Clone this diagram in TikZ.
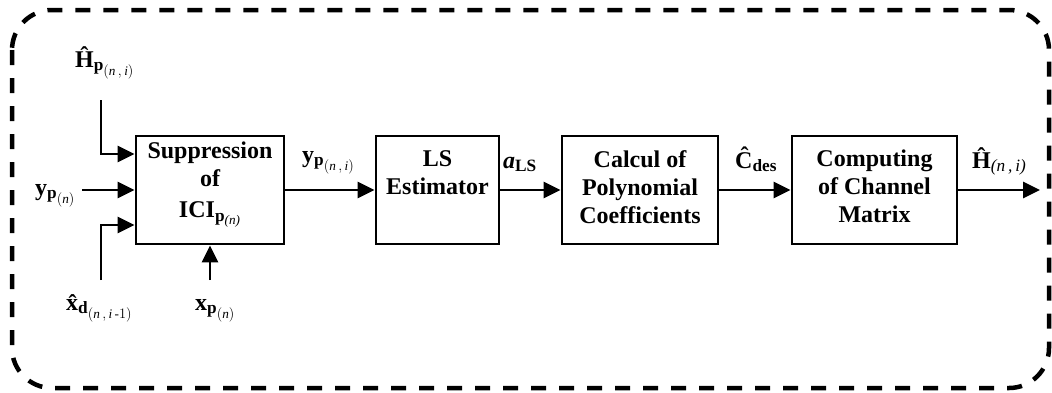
\documentclass[tikz,border=0pt]{standalone}
\usepackage{amsmath}
\usepackage{fontspec}
\setmainfont{Liberation Serif}
\usetikzlibrary{arrows.meta}
\renewcommand{\defaultscriptratio}{.72}
\renewcommand{\defaultscriptscriptratio}{.55}
\tikzset{
  blk/.style={draw, line width=2.8pt, minimum height=108pt, inner sep=0pt},
  blktext/.style={anchor=north, align=center, inner sep=0pt, font=\fontsize{24}{28}\selectfont\bfseries},
  sig/.style={line width=2.8pt, -{Triangle[length=17pt,width=16pt]}},
  lbl/.style={inner sep=0pt, font=\fontsize{24}{28}\selectfont},
  frame/.style={line width=4.5pt, dash pattern=on 15pt off 13pt, rounded corners=40pt}
}
\newcommand{\itn}[1]{\text{\normalfont\itshape #1}}
\newcommand{\bhat}[1]{\text{\normalfont\bfseries\^{#1}}}
\begin{document}
\begin{tikzpicture}[x=1pt,y=-1pt]
\useasboundingbox (0,0) rectangle (1052,392);
\draw[frame] (12,10) rectangle (1049,388);

\node[blk, minimum width=148pt] (sup) at (210,190) {};
\node[blk, minimum width=123pt] (ls)  at (437.5,190) {};
\node[blk, minimum width=156pt] (cal) at (640,190) {};
\node[blk, minimum width=165pt] (com) at (874.5,190) {};

\node[blktext] (supt) at ([yshift=-7pt]sup.north) {Suppression\\ of\\[3pt] ICI$_{\mathbf{p}_{\itn{(n)}}}$};
\node[blktext] (lst) at ([yshift=-15.5pt]ls.north) {LS\\ Estimator};
\node[blktext] (calt) at ([yshift=-15.5pt]cal.north) {Calcul of\\ Polynomial\\ Coefficients};
\node[blktext] (comt) at ([yshift=-15.5pt]com.north) {Computing\\ of Channel\\ Matrix};

% free ends of the input / output connectors
\coordinate (htop) at (101,100);
\coordinate (xbot) at (101,280);
\coordinate (yin) at (82,190);
\coordinate (xpin) at (210,280);
\coordinate (hout) at (1040,190);

\draw[sig] (htop) |- ([yshift=36pt]sup.west);
\draw[sig] (yin) -- (sup.west);
\draw[sig] (xbot) |- ([yshift=-35pt]sup.west);
\draw[sig] (xpin) -- (sup.south);

\draw[sig] (sup.east) -- (ls.west);
\draw[sig] (ls.east) -- (cal.west);
\draw[sig] (cal.east) -- (com.west);
\draw[sig] (com.east) -- (hout);

% labels
\node[lbl, anchor=base west] (lh) at (75,67) {$\bhat{H}_{\mathbf{p}_{(\mathit{n}\,,\,\mathit{i})}}$};
\node[lbl, anchor=base west] (ly) at (35,195) {$\mathbf{y}_{\mathbf{p}_{(\mathit{n})}}$};
\node[lbl, anchor=base west] (lxd) at (66,310) {$\bhat{x}_{\mathbf{d}_{(\mathit{n}\,,\,\mathit{i}\,\text{-}1)}}$};
\node[lbl, anchor=base west] (lxp) at (195,310) {$\mathbf{x}_{\mathbf{p}_{(\mathit{n})}}$};
\node[lbl, anchor=base west] (lyp) at (302,162) {$\mathbf{y}_{\mathbf{p}_{(\mathit{n}\,,\,\mathit{i})}}$};
\node[lbl, anchor=base west] (la) at (503,168) {$\text{\bfseries\itshape a}_{\mathbf{LS}}$};
\node[lbl, anchor=base west] (lc) at (735,168) {$\bhat{C}_{\mathbf{des}}$};
\node[lbl, anchor=base west] (lho) at (972,168) {$\bhat{H}_{\itn{(n\,,\,i)}}$};
\end{tikzpicture}
\end{document}
